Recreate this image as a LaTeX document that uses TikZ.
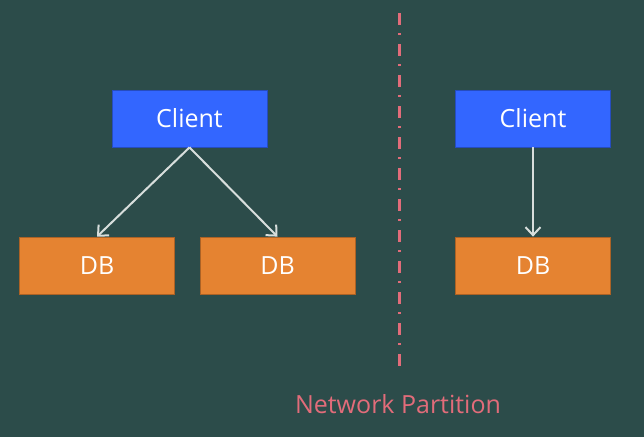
\documentclass[tikz,border=0pt]{standalone}
\usepackage{fontspec}
\setmainfont{Open Sans}
\usetikzlibrary{arrows.meta}
\definecolor{bgteal}{RGB}{44,76,74}
\definecolor{clientblue}{RGB}{51,102,255}
\definecolor{dborange}{RGB}{229,131,49}
\definecolor{arrowgrey}{RGB}{216,222,220}
\definecolor{partpink}{RGB}{226,108,122}
\begin{document}
\begin{tikzpicture}[x=1pt,y=-1pt,
  box/.style={minimum width=155pt,minimum height=57pt,inner sep=0pt,text=white,
    font=\fontsize{25}{30}\selectfont,line width=0.8pt},
  clientbox/.style={box,fill=clientblue,draw=clientblue!75!black},
  dbbox/.style={box,fill=dborange,draw=dborange!75!black},
  link/.style={draw=arrowgrey,line width=2pt,-{Straight Barb[length=8pt,width=15pt,line width=2pt]}}]
\fill[bgteal] (0,0) rectangle (644,437);

\node[clientbox] (clientA) at (189.5,118.5) {Client};
\node[dbbox] (dbA) at (97,265.5) {DB};
\node[dbbox] (dbB) at (277.5,265.5) {DB};
\draw[link] (clientA.south) -- (dbA.north);
\draw[link] (clientA.south) -- (dbB.north);

\node[clientbox] (clientB) at (533,118.5) {Client};
\node[dbbox] (dbC) at (533,265.5) {DB};
\draw[link] (clientB) -- (dbC);

\coordinate (cutTop) at (399,13);
\coordinate (cutBot) at (399,369);
\draw[partpink,line width=3pt,dash pattern=on 12pt off 8pt on 2pt off 9pt] (cutTop) -- (cutBot);
\node[text=partpink,font=\fontsize{25}{30}\selectfont] (cutLabel) at (398,404) {Network Partition};
\end{tikzpicture}
\end{document}
